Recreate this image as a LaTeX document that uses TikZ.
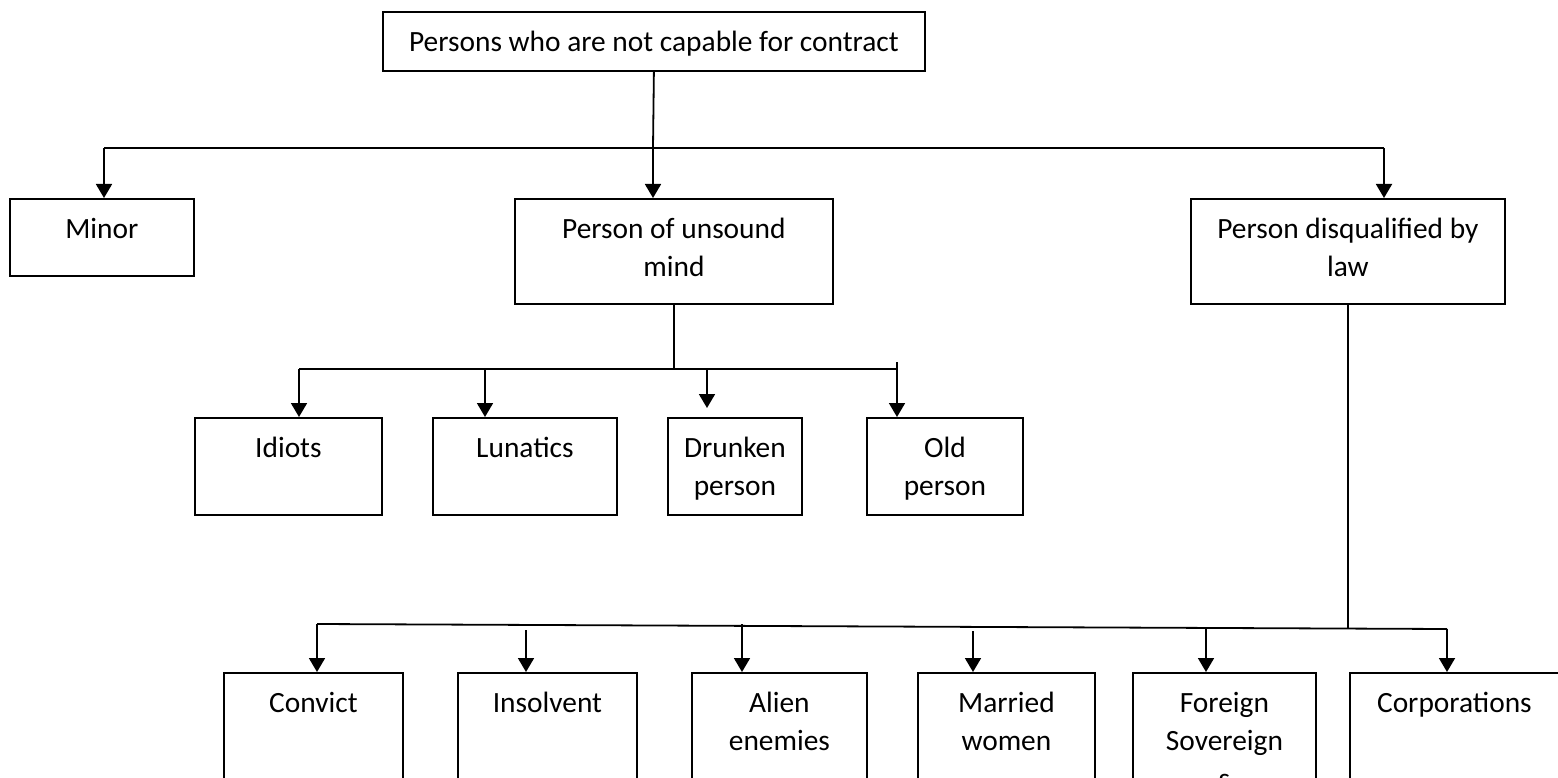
\documentclass[tikz,border=0pt]{standalone}
\usepackage{fontspec}
\setmainfont{Carlito}
\usetikzlibrary{arrows.meta,calc}
\begin{document}
\begin{tikzpicture}[x=1pt,y=-1pt,
  box/.style={draw=black,line width=1.8pt,rectangle,inner sep=0pt,anchor=north west},
  lbl/.style={anchor=north,inner sep=0pt,align=center,font=\fontsize{29.4}{38}\selectfont},
  conn/.style={line width=1.8pt},
  arr/.style={line width=1.8pt,-{Triangle[length=14pt,width=16pt]}}]
\useasboundingbox[fill=white] (0,0) rectangle (1558,778);

% boxes
\node[box,minimum width=542pt,minimum height=59pt] (top) at (382,11) {};
\node[box,minimum width=184pt,minimum height=77pt] (minor) at (9,198) {};
\node[box,minimum width=318pt,minimum height=105pt] (unsound) at (514,198) {};
\node[box,minimum width=314pt,minimum height=105pt] (disq) at (1190,198) {};
\node[box,minimum width=187pt,minimum height=97pt] (idiots) at (194,417) {};
\node[box,minimum width=184pt,minimum height=97pt] (lunatics) at (432,417) {};
\node[box,minimum width=134pt,minimum height=97pt] (drunken) at (667,417) {};
\node[box,minimum width=156pt,minimum height=97pt] (old) at (866,417) {};
\node[box,minimum width=179pt,minimum height=140pt] (convict) at (223,672) {};
\node[box,minimum width=179pt,minimum height=140pt] (insolvent) at (457,672) {};
\node[box,minimum width=175pt,minimum height=140pt] (alien) at (691,672) {};
\node[box,minimum width=177pt,minimum height=140pt] (married) at (917,672) {};
\node[box,minimum width=183pt,minimum height=140pt] (foreign) at (1132,672) {};
\node[box,minimum width=209pt,minimum height=140pt] (corp) at (1349,672) {};

% labels
\node[lbl] (top-t) at ($(top.north)+(0,13.5)$) {\strut Persons who are not capable for contract};
\node[lbl] (minor-t) at ($(minor.north)+(0,13.5)$) {\strut Minor};
\node[lbl] (unsound-t) at ($(unsound.north)+(0,13.5)$) {\strut Person of unsound\\\strut mind};
\node[lbl] (disq-t) at ($(disq.north)+(0,13.5)$) {\strut Person disqualified by\\\strut law};
\node[lbl] (idiots-t) at ($(idiots.north)+(0,13.5)$) {\strut Idiots};
\node[lbl] (lunatics-t) at ($(lunatics.north)+(0,13.5)$) {\strut Lunatics};
\node[lbl] (drunken-t) at ($(drunken.north)+(0,13.5)$) {\strut Drunken\\\strut person};
\node[lbl] (old-t) at ($(old.north)+(0,13.5)$) {\strut Old\\\strut person};
\node[lbl] (convict-t) at ($(convict.north)+(0,13.5)$) {\strut Convict};
\node[lbl] (insolvent-t) at ($(insolvent.north)+(0,13.5)$) {\strut Insolvent};
\node[lbl] (alien-t) at ($(alien.north)+(0,13.5)$) {\strut Alien\\\strut enemies};
\node[lbl] (married-t) at ($(married.north)+(0,13.5)$) {\strut Married\\\strut women};
\node[lbl] (foreign-t) at ($(foreign.north)+(0,13.5)$) {\strut Foreign\\\strut Sovereign\\\strut s};
\node[lbl] (corp-t) at ($(corp.north)+(0,13.5)$) {\strut Corporations};

% first level
\coordinate (j0) at (653,148);
\coordinate (jminor) at (104,148);
\coordinate (jdisq) at (1384,148);
\draw[conn] (top.south) -- (j0);
\draw[conn] (jminor) -- (jdisq);
\draw[arr] (jminor) -- (jminor |- minor.north);
\draw[arr] (j0) -- (j0 |- unsound.north);
\draw[arr] (jdisq) -- (jdisq |- disq.north);

% unsound mind branch
\coordinate (kI) at (299,369);
\coordinate (kL) at (485,369);
\coordinate (kD) at (707,369);
\coordinate (kO) at (897,369);
\coordinate (kOtop) at (897,362);
\coordinate (dtip) at (707,408);
\draw[conn] (unsound.south) -- (unsound.south |- kI);
\draw[conn] (kI) -- (kO);
\draw[arr] (kI) -- (kI |- idiots.north);
\draw[arr] (kL) -- (kL |- lunatics.north);
\draw[arr] (kD) -- (dtip);
\draw[arr] (kOtop) -- (kOtop |- old.north);

% disqualified branch
\coordinate (m0) at (1348,628);
\coordinate (mC) at (317,624);
\coordinate (mR) at (1447,629);
\coordinate (mI) at (526,630);
\coordinate (mA) at (742,624);
\coordinate (mM) at (973,631);
\coordinate (mF) at (1206,628);
\draw[conn] (disq.south) -- (disq.south |- m0);
\draw[conn] (mC) -- (mR);
\draw[arr] (mC) -- (mC |- convict.north);
\draw[arr] (mI) -- (mI |- insolvent.north);
\draw[arr] (mA) -- (mA |- alien.north);
\draw[arr] (mM) -- (mM |- married.north);
\draw[arr] (mF) -- (mF |- foreign.north);
\draw[arr] (mR) -- (mR |- corp.north);
\end{tikzpicture}
\end{document}
